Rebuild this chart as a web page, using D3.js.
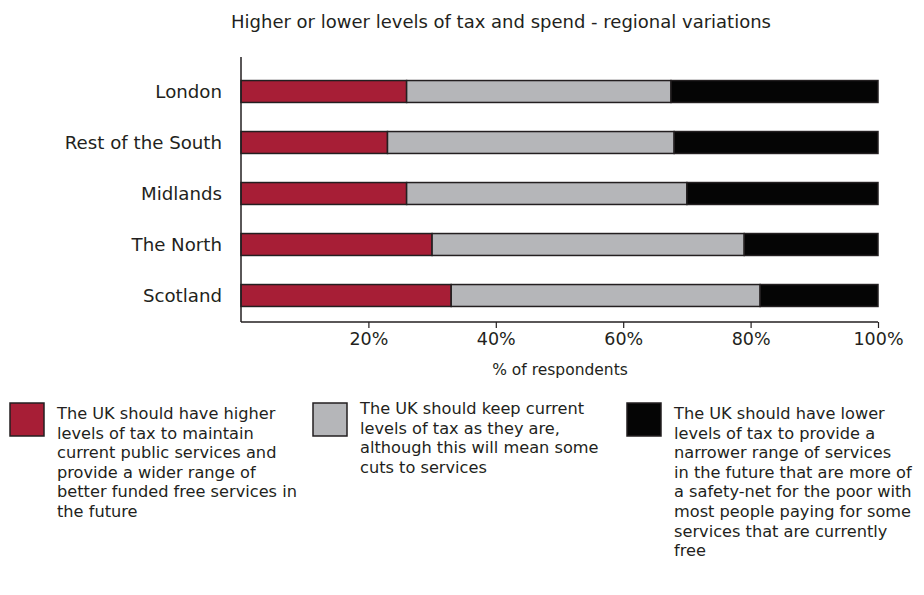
<!DOCTYPE html>
<html><head><meta charset="utf-8">
<script src="https://cdn.jsdelivr.net/npm/d3@7"></script>
<style>body{margin:0;background:#fff}svg{display:block}text{font-family:"DejaVu Sans",sans-serif;fill:#231f20}</style>
</head><body>
<svg id="c" width="924" height="595"></svg>
<script>
const regions = ["London","Rest of the South","Midlands","The North","Scotland"];
const higher = [26, 23, 26, 30, 33];
const keep = [41.5, 45, 44, 49, 48.5];
const lower = [32.5, 32, 30, 21, 18.5];
const seriesNames = ["higher","keep","lower"];
const seriesColors = ["#a71e36","#b5b6b9","#050505"];
const tickValues = [20,40,60,80,100];
const title = "Higher or lower levels of tax and spend - regional variations";
const xLabel = "% of respondents";
const legendTexts = [
 ["The UK should have higher","levels of tax to maintain","current public services and","provide a wider range of","better funded free services in","the future"],
 ["The UK should keep current","levels of tax as they are,","although this will mean some","cuts to services"],
 ["The UK should have lower","levels of tax to provide a","narrower range of services","in the future that are more of","a safety-net for the poor with","most people paying for some","services that are currently","free"]
];

const svg = d3.select("#c");
const x = d3.scaleLinear().domain([0,100]).range([241,878]);
const y = d3.scaleBand().domain(regions).range([66,321]).paddingInner(0.57).paddingOuter(0.285);

const data = regions.map((r,i)=>({region:r, higher:higher[i], keep:keep[i], lower:lower[i]}));
const stack = d3.stack().keys(seriesNames)(data);
const color = d3.scaleOrdinal().domain(seriesNames).range(seriesColors);

svg.append("text").attr("x",501).attr("y",28).attr("text-anchor","middle").style("font-size","18px").text(title);

svg.selectAll("g.s").data(stack).join("g").attr("fill",d=>color(d.key))
 .selectAll("rect").data(d=>d).join("rect")
 .attr("x",d=>x(d[0])).attr("width",d=>x(d[1])-x(d[0]))
 .attr("y",d=>y(d.data.region)).attr("height",y.bandwidth())
 .attr("stroke","#231f20").attr("stroke-width",1.5);

// axes
svg.append("line").attr("x1",241).attr("x2",241).attr("y1",57).attr("y2",322).attr("stroke","#231f20").attr("stroke-width",1.5);
const xAxis = svg.append("g").attr("transform","translate(0,322)")
 .call(d3.axisBottom(x).tickValues(tickValues).tickFormat(d=>d+"%").tickSize(6).tickPadding(5));
xAxis.select(".domain").attr("stroke","#231f20").attr("stroke-width",1.5).attr("d","M241,0H878");
xAxis.selectAll(".tick line").attr("stroke","#231f20").attr("stroke-width",1.2);
xAxis.selectAll(".tick text").style("font-size","17.5px").style("font-family","'DejaVu Sans',sans-serif").attr("fill","#231f20");

svg.append("text").attr("x",560).attr("y",375).attr("text-anchor","middle").style("font-size","15.5px").text(xLabel);

svg.selectAll("text.cat").data(regions).join("text").attr("class","cat")
 .attr("x",222).attr("y",d=>y(d)+y.bandwidth()/2).attr("dy","0.35em")
 .attr("text-anchor","end").style("font-size","18.2px").text(d=>d);

// legend
const lx = [10,313,627];
const ly = [403,403,403];
const txOff = 47;
seriesNames.forEach((s,i)=>{
  const g = svg.append("g").attr("transform",`translate(${lx[i]},${ly[i]})`);
  g.append("rect").attr("width",34).attr("height",33).attr("fill",seriesColors[i]).attr("stroke","#231f20").attr("stroke-width",1.5);
  const t = g.append("text").attr("x",txOff).attr("y",i===1?11:16).style("font-size","16.2px");
  legendTexts[i].forEach((line,j)=>t.append("tspan").attr("x",txOff).attr("dy",j===0?0:19.6).text(line));
});
</script>
</body></html>
